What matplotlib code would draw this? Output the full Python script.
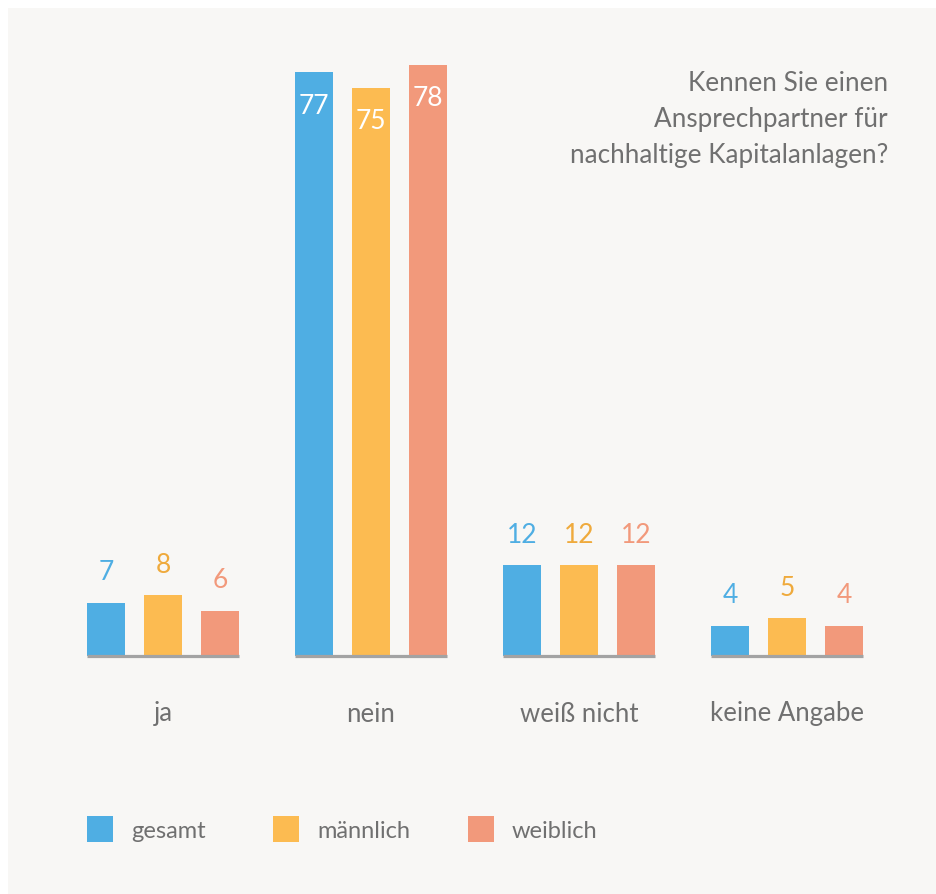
import matplotlib
matplotlib.use("Agg")
import matplotlib.pyplot as plt
from matplotlib.patches import Rectangle
import numpy as np

categories = ["ja", "nein", "weiß nicht", "keine Angabe"]
series_names = ["gesamt", "männlich", "weiblich"]
gesamt = [7, 77, 12, 4]
maennlich = [8, 75, 12, 5]
weiblich = [6, 78, 12, 4]
title_text = "Kennen Sie einen\nAnsprechpartner für\nnachhaltige Kapitalanlagen?"

colors = ["#4FAEE3", "#FCBB51", "#F2997B"]
label_colors = ["#4FAEE3", "#EFAA3C", "#F2997B"]
bg = "#F8F7F5"
text_col = "#707070"
font = ["Lato", "DejaVu Sans"]
plt.rcParams["font.family"] = font
plt.rcParams["font.weight"] = "normal"

W, H = 936, 894
fig = plt.figure(figsize=(W / 100, H / 100), dpi=100)
fig.patch.set_facecolor("white")
fig.patches.append(Rectangle((8 / W, 0), 1 - 8 / W, 1 - 8 / H, transform=fig.transFigure,
                             facecolor=bg, edgecolor="none", zorder=-10))

# axes: baseline at y=656px, 7.58 px per unit
ppu = 7.58
ymax = 80
ax_h = ymax * ppu
ax = fig.add_axes([59 / W, (H - 656) / H, 832 / W, ax_h / H])
ax.set_xlim(-0.5, 3.5)
ax.set_ylim(0, ymax)
ax.axis("off")

x = np.arange(len(categories))
bw = 38 / 208
off = 57 / 208
data = [gesamt, maennlich, weiblich]
for s, (vals, c, lc) in enumerate(zip(data, colors, label_colors)):
    xs = x + (s - 1) * off
    ax.bar(xs, vals, width=bw, color=c, zorder=2)
    for xi, v in zip(xs, vals):
        if v > 50:
            ax.annotate(str(v), (xi, v), xytext=(0, -34), textcoords="offset pixels",
                        ha="center", va="center", color="white", fontsize=19)
        else:
            ax.annotate(str(v), (xi, v), xytext=(0, 30), textcoords="offset pixels",
                        ha="center", va="center", color=lc, fontsize=19)

half = 76 / 208
for xi in x:
    ax.plot([xi - half, xi + half], [0, 0], color="#A3A3A3", lw=2.3, solid_capstyle="butt",
            zorder=3, clip_on=False)
    ax.annotate(categories[xi], (xi, 0), xytext=(0, -58), textcoords="offset pixels",
                ha="center", va="center", color=text_col, fontsize=18.5, annotation_clip=False)

fig.text(888 / W, 1 - 71 / H, title_text, ha="right", va="top", color=text_col,
         fontsize=18.8, linespacing=1.56)

# legend
leg_x = [87, 273, 468]
for name, c, lx in zip(series_names, colors, leg_x):
    fig.patches.append(Rectangle((lx / W, 1 - 842 / H), 26 / W, 26 / H, transform=fig.transFigure,
                                 facecolor=c, edgecolor="none"))
    fig.text((lx + 44) / W, 1 - 831 / H, name, ha="left", va="center", color=text_col, fontsize=17)

fig.savefig("out.png", dpi=100, facecolor=fig.get_facecolor())
